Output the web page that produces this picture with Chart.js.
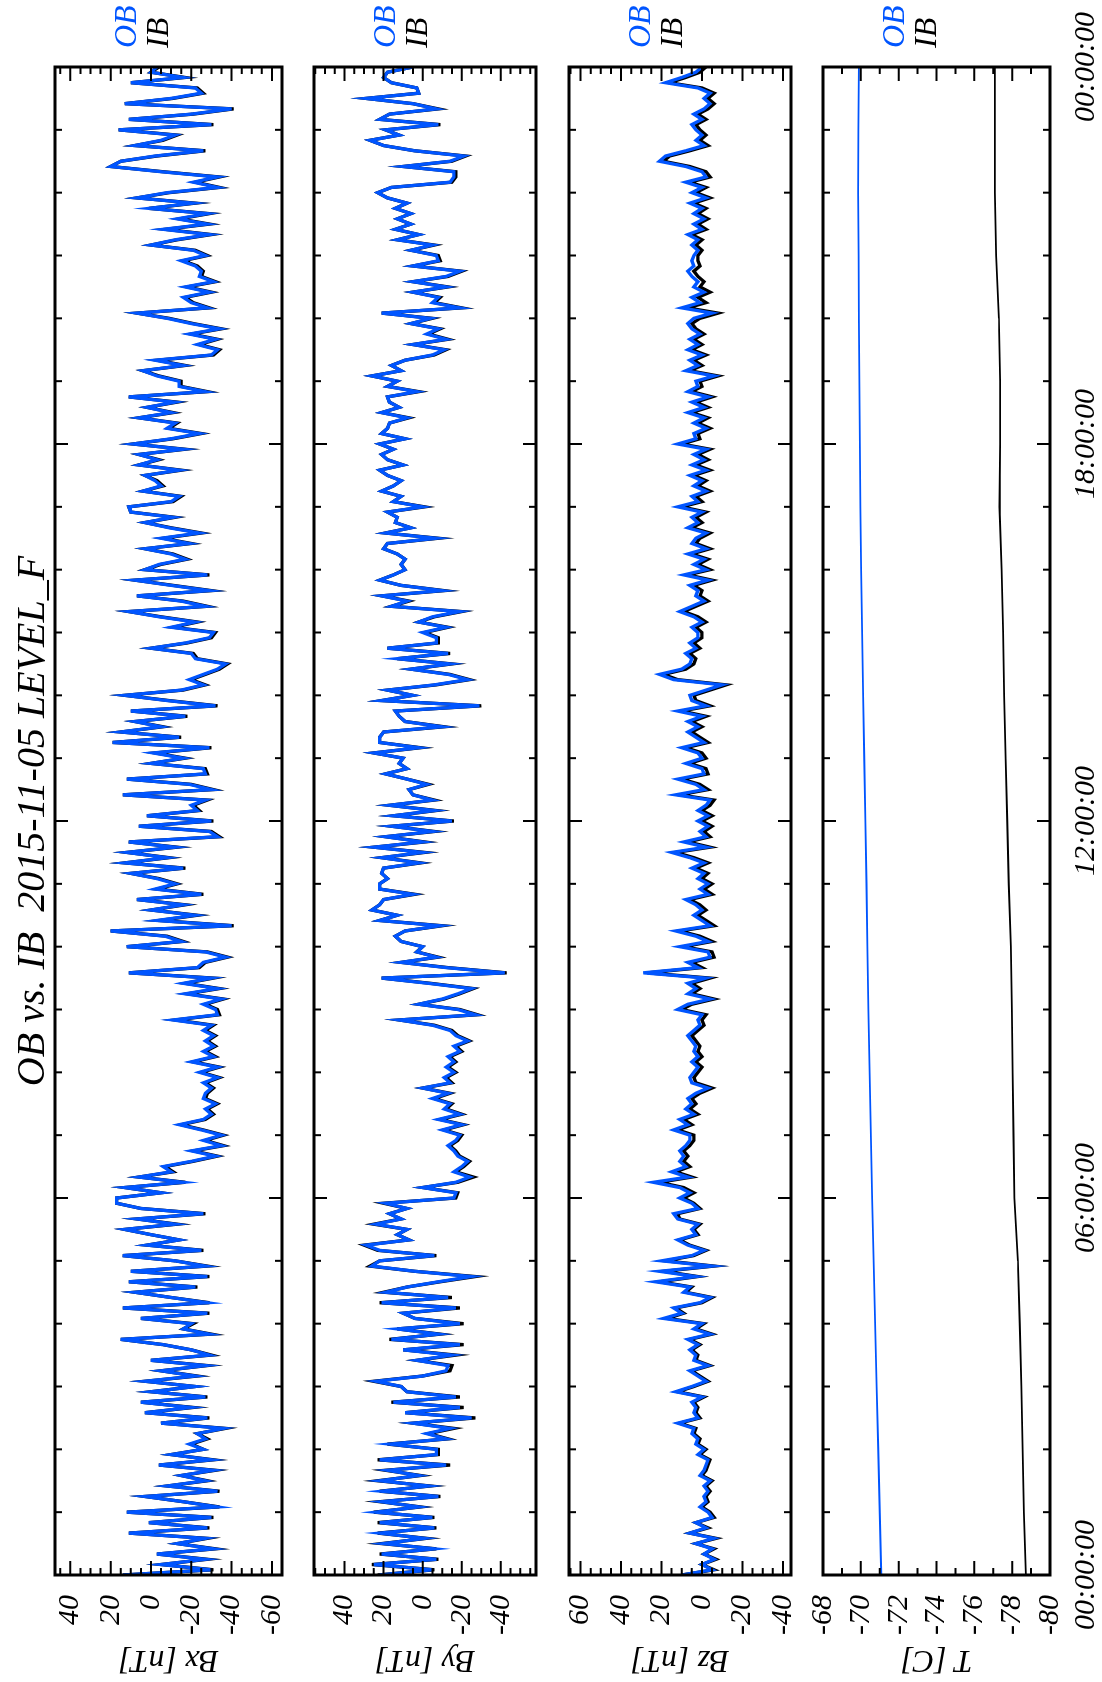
<!DOCTYPE html>
<html>
<head>
<meta charset="utf-8">
<script src="https://cdn.jsdelivr.net/npm/chart.js@4.4.1/dist/chart.umd.min.js"></script>
<style>
  html, body { margin: 0; padding: 0; background: #fff; overflow: hidden; }
  /* the plot is laid out in landscape and turned a quarter turn, like the reference */
  #page { position: absolute; left: 0; top: 0; width: 1682px; height: 1102px;
          transform-origin: 0 0; transform: translateY(1682px) rotate(-90deg); }
  #page canvas { position: absolute; left: 0; }
</style>
</head>
<body>
<div id="page">
  <canvas id="bx"></canvas>
  <canvas id="by"></canvas>
  <canvas id="bz"></canvas>
  <canvas id="temp"></canvas>
</div>
<script>
const FONT = '"Liberation Serif", "Times New Roman", serif';
const BLUE = 'rgb(0, 85, 255)';

// 5 minute samples over the day (index * 5 = minutes after 00:00)
const obBx = [
  14, -30, -5, -27, -3, -31, -13, -27, 11, -28, 1, -30,
  12, -33, -16, 3, -33, -8, -27, -15, -31, -4, -30, -10,
  -26, -19, -27, -23, -36, -5, -28, 3, -20, 5, -27, 0,
  -22, 3, -22, -5, -27, 0, -29, -20, -6, 15, -29, -16,
  -20, 5, -28, 14, -28, -10, 8, -22, 11, -28, 10, -27,
  -12, 14, -25, 2, -14, 0, 13, -12, 7, -26, 5, 17,
  17, -5, 13, -16, 6, -10, -6, -20, -32, -20, -35, -26,
  -35, -25, -14, -26, -30, -27, -32, -26, -27, -30, -26, -33,
  -24, -33, -20, -31, -26, -31, -27, -31, -26, -30, -11, -33,
  -32, -26, -35, -17, -33, -16, -30, 11, -23, -26, -37, -27,
  12, -15, -7, 20, -40, -3, -22, 0, -16, 7, -25, -2,
  -12, -3, 10, -16, 13, -8, 12, -12, 11, -33, -29, 6,
  -30, 2, -23, -20, -27, 14, -30, -19, 12, -27, -26, 0,
  -16, -1, -29, 19, -14, 15, -5, 8, -17, 10, -32, -8,
  13, -15, -26, -19, -26, -33, -37, -22, -20, 0, -17, -29,
  -31, -10, -22, -4, 11, -27, -15, 7, -29, -10, 8, -28,
  3, -4, -17, -10, 3, -19, -5, -24, -9, 3, -11, 10,
  11, -10, -14, 4, -5, -2, 3, -14, 6, -3, 6, -16,
  9, -10, -24, -8, -12, 6, -10, 2, -12, 11, -27, -14,
  -14, -3, 4, -16, -2, -30, -33, -23, -32, -19, -34, -20,
  -8, 7, -28, -20, -16, -29, -17, -31, -24, -25, -22, -15,
  -27, -21, 0, -12, -29, -6, -28, -13, -28, 1, -21, 7,
  -8, -33, -21, -33, -5, 20, 15, -2, -26, 8, -5, -12,
  16, -30, 11, -20, -40, 13, -10, -25, -22, 10, -16, 0,
  -3
];
const ibBx = [
  14, -31, -5, -28, -3, -32, -13, -28, 11, -29, 1, -31,
  12, -34, -16, 3, -34, -8, -28, -15, -32, -4, -31, -10,
  -26, -20, -28, -23, -37, -5, -29, 3, -21, 5, -28, 0,
  -22, 3, -23, -5, -28, 0, -30, -20, -6, 15, -30, -16,
  -21, 5, -29, 14, -29, -10, 8, -23, 11, -29, 10, -28,
  -12, 14, -26, 2, -14, 0, 13, -13, 7, -27, 5, 17,
  17, -5, 13, -17, 6, -11, -7, -21, -33, -21, -36, -27,
  -36, -26, -15, -27, -31, -28, -33, -27, -28, -31, -27, -34,
  -25, -34, -21, -32, -27, -32, -28, -32, -27, -31, -12, -34,
  -33, -27, -36, -18, -34, -17, -31, 11, -24, -27, -38, -28,
  12, -16, -8, 20, -41, -4, -23, 0, -17, 7, -26, -3,
  -13, -4, 10, -17, 13, -9, 12, -13, 11, -34, -30, 6,
  -31, 2, -24, -21, -28, 14, -31, -20, 12, -28, -27, 0,
  -17, -2, -30, 19, -15, 15, -6, 8, -18, 10, -33, -9,
  13, -16, -27, -20, -27, -34, -38, -23, -21, 0, -18, -30,
  -32, -11, -23, -5, 11, -28, -16, 7, -30, -11, 8, -29,
  3, -5, -18, -11, 3, -20, -6, -25, -10, 3, -12, 10,
  11, -11, -15, 4, -6, -3, 3, -15, 6, -4, 6, -17,
  9, -11, -25, -9, -13, 6, -11, 2, -13, 11, -28, -15,
  -15, -4, 4, -17, -3, -31, -34, -24, -33, -20, -35, -21,
  -9, 7, -29, -21, -17, -30, -18, -32, -25, -26, -23, -16,
  -28, -22, 0, -13, -30, -7, -29, -14, -29, 1, -22, 7,
  -9, -34, -22, -34, -6, 20, 15, -3, -27, 8, -6, -13,
  16, -31, 11, -21, -41, 13, -11, -26, -23, 10, -17, 0,
  -4
];
const obBy = [
  22, -5, 25, -7, 21, -6, 20, -1, 22, -6, 22, -5,
  24, 2, 21, -8, 21, -3, 22, 2, 18, -12, 22, -7,
  -7, 17, -12, -2, -14, 5, -25, 9, -19, 15, -17, 8,
  11, 24, 0, -12, -13, 3, -15, 10, -19, 16, -8, 13,
  -19, 4, 10, -17, 21, -13, 19, 8, -8, -25, 4, 26,
  22, -6, 22, 29, 7, 13, 8, 24, 11, 17, 8, 19,
  -16, -17, 0, -17, -24, -16, -20, -23, -18, -16, -13, -17,
  -19, -10, -20, -8, -19, -11, -14, -5, -13, 0, -14, -11,
  -16, -12, -16, -13, -19, -16, -23, -17, -14, -5, 12, -27,
  -18, 2, -10, -18, -25, -3, 21, -42, -12, 11, -7, 3,
  0, 11, 14, 9, -9, 22, 13, 26, 22, 20, 5, 22,
  22, 18, 21, 20, 2, 21, 0, 25, 0, 19, -5, 16,
  -15, 15, -6, 17, -5, 5, 7, -2, 8, 19, 8, 12,
  10, 25, 2, 22, 22, 20, -10, 9, 12, 14, -29, 21,
  5, 18, -6, -23, -13, 6, -14, 13, -13, 18, -7, -7,
  0, -12, 2, -5, -19, 16, 8, 21, -10, 11, 22, 15,
  9, 11, 9, 13, 20, 18, -7, 19, 6, 14, 13, 18,
  0, 15, 11, 21, 15, 11, 18, 22, 10, 18, 21, 15,
  22, 9, 21, 18, 17, 8, 21, 12, 17, 18, 3, 18,
  13, 26, 11, 16, 9, -5, -11, 5, -12, -2, -8, 6,
  -4, 21, -19, -5, -8, 5, -12, 5, -12, -19, 5, -8,
  -7, 6, -5, 13, 2, 14, 6, 13, 6, 14, 8, 18,
  23, 16, -14, -16, -16, 10, -14, -21, 4, 20, 27, 12,
  19, -8, 22, 17, -7, 5, 29, 2, 3, 16, 20, 18,
  5
];
const ibBy = [
  23, -6, 26, -8, 22, -7, 21, -2, 23, -7, 23, -6,
  25, 1, 22, -9, 22, -4, 23, 1, 19, -14, 23, -8,
  -8, 18, -13, -3, -16, 5, -27, 9, -21, 16, -19, 8,
  11, 25, 0, -14, -15, 3, -17, 10, -21, 17, -9, 13,
  -21, 4, 10, -19, 22, -15, 20, 8, -9, -27, 4, 27,
  22, -7, 23, 30, 7, 13, 8, 25, 11, 17, 8, 20,
  -17, -18, 0, -18, -26, -17, -21, -24, -19, -17, -14, -18,
  -20, -11, -21, -9, -20, -12, -15, -6, -14, 0, -15, -12,
  -17, -13, -17, -14, -20, -17, -24, -18, -15, -6, 12, -28,
  -19, 2, -11, -19, -26, -4, 21, -43, -13, 11, -8, 3,
  0, 11, 14, 9, -10, 22, 13, 26, 22, 20, 4, 22,
  22, 18, 21, 20, 1, 21, -1, 25, -1, 19, -6, 16,
  -16, 15, -7, 17, -6, 5, 7, -3, 8, 19, 8, 12,
  10, 25, 1, 22, 22, 20, -11, 9, 12, 14, -30, 21,
  5, 18, -7, -24, -14, 6, -15, 13, -14, 18, -8, -8,
  -1, -13, 2, -6, -20, 16, 7, 21, -11, 11, 22, 15,
  9, 11, 9, 13, 20, 18, -8, 19, 6, 14, 13, 18,
  -1, 15, 11, 21, 15, 11, 18, 22, 10, 18, 21, 15,
  22, 9, 21, 18, 17, 7, 21, 12, 17, 18, 2, 18,
  13, 26, 11, 16, 9, -6, -12, 5, -13, -3, -9, 6,
  -5, 21, -20, -6, -9, 5, -13, 5, -13, -20, 5, -9,
  -8, 6, -6, 13, 2, 14, 6, 13, 6, 14, 8, 18,
  23, 16, -15, -17, -17, 10, -15, -22, 4, 20, 27, 12,
  19, -9, 22, 17, -8, 5, 29, 2, 3, 16, 20, 18,
  5
];
const obBz = [
  10, -5, 0, -6, -1, -5, 3, -6, 6, -2, 3, -5,
  -3, 1, -2, -1, -3, -1, -4, 1, -1, -2, -3, 2,
  -1, 3, 2, 5, 4, 12, 2, 4, 3, 5, 0, 13,
  5, -2, 2, 6, -3, 4, 3, 6, 2, 7, -4, 4,
  0, 19, 10, 14, 1, -4, 9, 6, 23, 3, 21, -5,
  20, 5, -1, 7, 12, 3, 5, 2, 12, 14, 2, 5,
  11, 6, 11, 24, 7, 15, 8, 11, 9, 11, 8, 6,
  6, 14, 7, 11, 4, 8, 5, 7, 3, -3, 5, 6,
  4, 2, 5, 2, 4, 3, 5, 7, 4, 1, 2, 0,
  12, 7, -4, 7, 3, 7, -2, 29, 2, 7, -4, -3,
  11, -3, 3, 13, -4, 0, 4, 0, 3, 8, -3, 1,
  -3, 2, -1, 5, -1, 6, 15, -2, 9, -2, 1, -3,
  2, -3, 2, -2, -4, 13, -1, 3, 12, -1, 0, 8,
  0, 2, 10, -1, 3, 7, 2, 7, 0, 12, -2, 5,
  6, -2, -10, 14, 21, 10, 6, 5, 8, 3, 6, 2,
  2, 5, 0, 4, 11, 5, -1, 3, 2, 6, -3, 9,
  -2, 4, -1, 7, -2, 5, 3, -2, 7, 2, 5, 0,
  12, 2, 5, -2, 4, 0, 6, -2, 5, -1, 4, -2,
  12, 3, 4, -2, 4, -1, 7, -1, 5, -3, 7, 2,
  3, -6, 8, 2, 6, 0, 7, 2, 6, 1, 5, 7,
  4, -5, 10, 1, 5, -1, 4, 2, 5, 7, 4, 5,
  4, 2, 5, 2, 7, 0, 4, -1, 4, 0, 6, -2,
  5, 0, 8, -2, 0, 8, 21, 18, 8, -1, 3, 0,
  3, 5, 0, 4, -1, -4, -1, -4, 2, 18, 10, 3,
  0
];
const ibBz = [
  10, -6, 0, -7, -1, -6, 3, -7, 6, -3, 3, -6,
  -4, 0, -3, -2, -4, -2, -5, 0, -2, -3, -4, 1,
  -2, 2, 1, 4, 3, 11, 1, 3, 2, 4, -1, 12,
  4, -3, 1, 5, -4, 3, 2, 5, 1, 6, -5, 3,
  -1, 17, 9, 13, 0, -5, 8, 5, 21, 2, 19, -6,
  18, 4, -2, 6, 11, 2, 4, 1, 11, 12, 1, 4,
  9, 4, 9, 21, 5, 13, 6, 9, 7, 9, 6, 4,
  4, 12, 5, 9, 2, 6, 3, 5, 1, -5, 3, 4,
  2, 0, 3, 0, 2, 1, 3, 5, 2, -1, 0, -2,
  10, 5, -6, 5, 1, 5, -4, 27, 0, 5, -6, -5,
  9, -5, 1, 11, -6, -2, 2, -2, 1, 6, -5, -1,
  -5, 0, -3, 3, -3, 4, 13, -4, 7, -4, -1, -5,
  0, -5, 0, -4, -6, 11, -3, 1, 10, -3, -2, 6,
  -2, 0, 8, -3, 1, 5, 0, 5, -2, 10, -4, 3,
  4, -4, -12, 12, 19, 8, 4, 3, 6, 1, 4, 0,
  0, 3, -2, 2, 9, 3, -3, 1, 0, 4, -5, 7,
  -4, 2, -3, 5, -4, 3, 1, -4, 5, 0, 3, -2,
  10, 0, 3, -4, 2, -2, 4, -4, 3, -3, 2, -4,
  10, 1, 2, -4, 2, -3, 5, -3, 3, -5, 5, 0,
  1, -8, 6, 0, 4, -2, 5, 0, 4, -1, 3, 5,
  1, -8, 7, -2, 2, -4, 1, -1, 2, 4, 1, 2,
  2, 0, 3, 0, 5, -2, 2, -3, 2, -2, 4, -4,
  3, -2, 6, -4, -2, 6, 19, 16, 6, -3, 1, -2,
  1, 3, -2, 2, -3, -6, -3, -6, 0, 16, 8, 1,
  -2
];
// hourly temperatures, 00:00 .. 24:00
const obT = [-71.08, -71.0, -70.92, -70.84, -70.76, -70.68, -70.6, -70.53, -70.47, -70.4,
  -70.35, -70.3, -70.24, -70.18, -70.12, -70.07, -70.02, -69.98, -69.95, -69.92,
  -69.9, -69.88, -69.86, -69.87, -69.9];
const ibT = [-78.72, -78.62, -78.55, -78.49, -78.4, -78.3, -78.12, -78.07, -78.02, -77.98,
  -77.93, -77.82, -77.74, -77.65, -77.57, -77.52, -77.44, -77.33, -77.36, -77.36,
  -77.3, -77.15, -77.09, -77.09, -77.09];

const bxTicks = [40, 20, 0, -20, -40, -60];
const byTicks = [40, 20, 0, -20, -40];
const bzTicks = [60, 40, 20, 0, -20, -40];
const tTicks = [-68, -70, -72, -74, -76, -78, -80];
const timeTicks = [0, 360, 720, 1080, 1440];
const timeLabels = ['00:00:00', '06:00:00', '12:00:00', '18:00:00', '00:00:00'];
const heading = 'OB vs. IB  2015-11-05 LEVEL_F';

const framePlugin = {
    id: 'frame',
    afterDatasetsDraw(chart) {
        const { ctx, chartArea: a, scales: { x, y } } = chart;
        const opt = chart.options.plugins.frame;
        ctx.save();
        ctx.strokeStyle = '#000';
        ctx.lineWidth = 2;
        ctx.beginPath();
        for (let h = 0; h <= 24; h++) {
            const px = x.getPixelForValue(h * 60);
            const len = h % 6 === 0 ? 13 : 7;
            ctx.moveTo(px, a.top); ctx.lineTo(px, a.top + len);
            ctx.moveTo(px, a.bottom); ctx.lineTo(px, a.bottom - len);
        }
        for (let v = Math.ceil(y.min / opt.minor) * opt.minor; v <= y.max; v += opt.minor) {
            const py = y.getPixelForValue(v);
            const len = opt.major.includes(v) ? 14 : 7;
            ctx.moveTo(a.left, py); ctx.lineTo(a.left + len, py);
            ctx.moveTo(a.right, py); ctx.lineTo(a.right - len, py);
        }
        ctx.stroke();
        ctx.lineWidth = 3;
        ctx.strokeRect(a.left, a.top, a.right - a.left, a.bottom - a.top);

        ctx.font = 'italic 32px ' + FONT;
        ctx.textAlign = 'left';
        ctx.textBaseline = 'alphabetic';
        ctx.fillStyle = BLUE;
        ctx.fillText('OB', 1634, a.top + 81);
        ctx.fillStyle = '#000';
        ctx.fillText('IB', 1634, a.top + 113);
        if (opt.heading) {
            ctx.font = 'italic 40px ' + FONT;
            ctx.textAlign = 'center';
            ctx.fillText(opt.heading, (a.left + a.right) / 2, 44);
        }
        ctx.restore();
    }
};

const panels = [
    { id: 'bx', top: 0, padTop: 55, height: 312, min: -65, max: 47.6, ticks: bxTicks, minor: 5,
      title: 'Bx [nT]', ob: obBx, ib: ibBx, step: 5, lw: 3.3, heading: heading },
    { id: 'by', top: 284, padTop: 25, height: 282, min: -58, max: 55.6, ticks: byTicks, minor: 5,
      title: 'By [nT]', ob: obBy, ib: ibBy, step: 5, lw: 3.3 },
    { id: 'bz', top: 539, padTop: 25, height: 282, min: -44, max: 65.7, ticks: bzTicks, minor: 5,
      title: 'Bz [nT]', ob: obBz, ib: ibBz, step: 5, lw: 3.3 },
    { id: 'temp', top: 793, padTop: 25, height: 317, min: -80, max: -68, ticks: tTicks, minor: 1,
      title: 'T [C]', ob: obT, ib: ibT, step: 60, lw: 1.8, xLabels: true }
];

function chartIt(p) {
    const canvas = document.getElementById(p.id);
    canvas.width = 1682;
    canvas.height = p.height;
    canvas.style.top = p.top + 'px';
    canvas.style.width = '1682px';
    canvas.style.height = p.height + 'px';
    const xHeight = p.xLabels ? 60 : 0;
    const padBottom = p.height - p.padTop - 232 - xHeight;

    new Chart(canvas, {
        type: 'line',
        data: {
            datasets: [{
                label: 'OB',
                data: p.ob.map((v, i) => ({ x: i * p.step, y: v })),
                borderColor: BLUE,
                borderWidth: p.lw,
                pointRadius: 0,
                tension: 0
            }, {
                label: 'IB',
                data: p.ib.map((v, i) => ({ x: i * p.step, y: v })),
                borderColor: '#000',
                borderWidth: p.lw,
                pointRadius: 0,
                tension: 0
            }]
        },
        options: {
            responsive: false,
            animation: false,
            devicePixelRatio: 1,
            layout: { padding: { top: p.padTop, bottom: padBottom, left: 0, right: 67 } },
            plugins: {
                legend: { display: false },
                tooltip: { enabled: false },
                frame: { minor: p.minor, major: p.ticks, heading: p.heading }
            },
            scales: {
                x: {
                    type: 'linear',
                    min: 0,
                    max: 1440,
                    grid: { display: false },
                    border: { display: false },
                    ticks: {
                        display: !!p.xLabels,
                        autoSkip: false,
                        maxRotation: 0,
                        padding: 10,
                        color: '#000',
                        font: { family: FONT, size: 30, style: 'italic' },
                        callback: (v) => timeLabels[timeTicks.indexOf(v)]
                    },
                    afterBuildTicks: (s) => { s.ticks = timeTicks.map(v => ({ value: v })); },
                    afterFit: (s) => { s.height = xHeight; }
                },
                y: {
                    min: p.min,
                    max: p.max,
                    grid: { display: false },
                    border: { display: false },
                    ticks: {
                        autoSkip: false,
                        padding: 12,
                        color: '#000',
                        font: { family: FONT, size: 30, style: 'italic' }
                    },
                    afterBuildTicks: (s) => { s.ticks = p.ticks.map(v => ({ value: v })); },
                    afterFit: (s) => { s.width = 107; },
                    title: {
                        display: true,
                        text: p.title,
                        color: '#000',
                        padding: { top: 3, bottom: 0 },
                        font: { family: FONT, size: 32, style: 'italic' }
                    }
                }
            }
        },
        plugins: [framePlugin]
    });
}

panels.forEach(chartIt);
</script>
</body>
</html>
